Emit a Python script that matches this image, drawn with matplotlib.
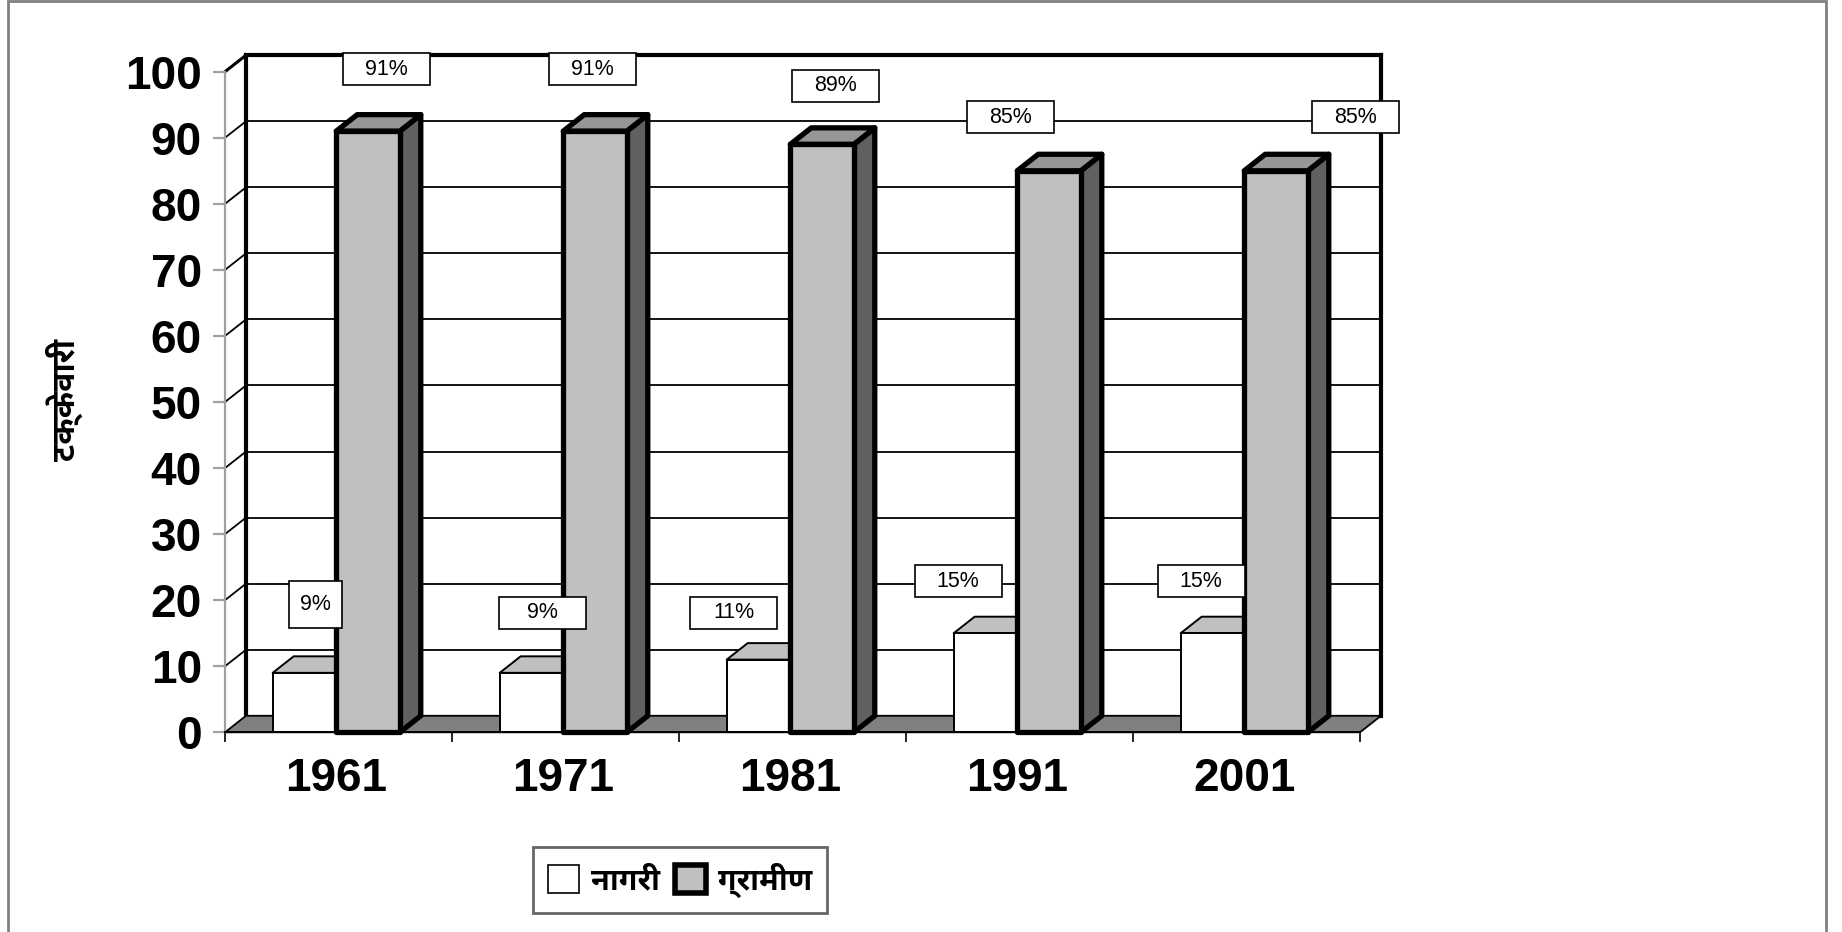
import matplotlib
matplotlib.use('Agg')
import matplotlib.pyplot as plt
from matplotlib import font_manager
from matplotlib.ft2font import FT2Font
from matplotlib.patches import Polygon, Rectangle, Patch

years = ['1961', '1971', '1981', '1991', '2001']
urban = [9, 9, 11, 15, 15]      # नागरी
rural = [91, 91, 89, 85, 85]    # ग्रामीण
urban_labels = ['9%', '9%', '11%', '15%', '15%']
rural_labels = ['91%', '91%', '89%', '85%', '85%']
y_label = 'टक्केवारी'
legend_names = ['नागरी', 'ग्रामीण']

# label box centres (data coords), as Excel placed them
urban_lab_pos = [(0.40, 19.3), (1.40, 18.1), (2.24, 18.1), (3.23, 22.9), (4.30, 22.9)]
rural_lab_pos = [(0.71, 100.4), (1.62, 100.4), (2.69, 97.9), (3.46, 93.1), (4.98, 93.1)]


def find_deva_font():
    # fonts that have devanagari, bold faces first
    found = []
    for f in font_manager.fontManager.ttflist:
        try:
            if ord('न') in FT2Font(f.fname).get_charmap():
                w = f.weight if isinstance(f.weight, int) else 400
                found.append((w >= 600, 'Devanagari' in f.name, f.name))
        except Exception:
            pass
    found.sort(reverse=True)
    return [n for _, _, n in found]


deva = find_deva_font()
deva_family = (deva[:1] if deva else []) + ['DejaVu Sans']

plt.rcParams['font.family'] = ['Liberation Sans', 'DejaVu Sans']

fig = plt.figure(figsize=(18.42, 9.32), dpi=100)
W, H = 1842, 932
ax = fig.add_axes([225 / W, 1 - 732.3 / H, (1360 - 225) / W, (732.3 - 71.7) / H])
ax.set_xlim(0, 5)
ax.set_ylim(0, 100)

dx, dy = 0.0925, 2.5   # depth offset of the 3d box
n = len(years)

# floor
ax.add_patch(Polygon([(0, 0), (n, 0), (n + dx, dy), (dx, dy)], closed=True,
                     facecolor='#808080', edgecolor='black', lw=1.3, zorder=1, clip_on=False))
# back wall grid + side diagonals
for v in range(10, 100, 10):
    ax.plot([dx, n + dx], [v + dy, v + dy], color='black', lw=1.3, zorder=0.5, clip_on=False)
    ax.plot([0, dx], [v, v + dy], color='black', lw=1.3, zorder=0.5, clip_on=False)
ax.plot([0, dx], [100, 100 + dy], color='black', lw=2.2, zorder=0.5, clip_on=False)
ax.plot([dx, n + dx], [100 + dy, 100 + dy], color='black', lw=3, zorder=0.6, clip_on=False)
ax.plot([dx, dx], [dy, 100 + dy], color='black', lw=3, zorder=0.6, clip_on=False)
ax.plot([n + dx, n + dx], [dy, 100 + dy], color='black', lw=3, zorder=0.6, clip_on=False)


def bar3d(x0, w, h, front, top, side, lw, z):
    kw = dict(closed=True, edgecolor='black', lw=lw, joinstyle='round', zorder=z, clip_on=False)
    ax.add_patch(Polygon([(x0 + w, 0), (x0 + w + dx, dy), (x0 + w + dx, h + dy), (x0 + w, h)],
                         facecolor=side, **kw))
    ax.add_patch(Polygon([(x0, h), (x0 + w, h), (x0 + w + dx, h + dy), (x0 + dx, h + dy)],
                         facecolor=top, **kw))
    ax.add_patch(Polygon([(x0, 0), (x0 + w, 0), (x0 + w, h), (x0, h)],
                         facecolor=front, **kw))


bw = 0.28
for i in range(n):
    c = i + 0.49
    bar3d(c - bw, bw, urban[i], 'white', '#c0c0c0', '#c0c0c0', 1.4, 2 + i)
    bar3d(c, bw, rural[i], '#c0c0c0', '#969696', '#606060', 3.8, 2.5 + i)

# data labels
bx, by = 87 / 227, 32 / 6.606
for k, (lab, (x, y)) in enumerate(zip(urban_labels, urban_lab_pos)):
    w, h = (53 / 227, 47 / 6.606) if k == 0 else (bx, by)
    ax.add_patch(Rectangle((x - w / 2, y - h / 2), w, h, facecolor='white', edgecolor='black',
                           lw=1.2, zorder=20, clip_on=False))
    ax.text(x, y, lab, ha='center', va='center', fontsize=15.5, zorder=21)
for lab, (x, y) in zip(rural_labels, rural_lab_pos):
    ax.add_patch(Rectangle((x - bx / 2, y - by / 2), bx, by, facecolor='white', edgecolor='black',
                           lw=1.2, zorder=20, clip_on=False))
    ax.text(x, y, lab, ha='center', va='center', fontsize=15.5, zorder=21)

# axes
for s in ['top', 'right']:
    ax.spines[s].set_visible(False)
ax.spines['left'].set_color('#a0a0a0')
ax.spines['left'].set_linewidth(1.6)
ax.spines['bottom'].set_color('black')
ax.spines['bottom'].set_linewidth(1.4)
ax.spines['bottom'].set_zorder(15)
ax.set_yticks(range(0, 101, 10))
ax.tick_params(axis='y', colors='#a0a0a0', length=8.6, width=1.6, pad=8, labelcolor='black',
               labelsize=33)
for t in ax.get_yticklabels():
    t.set_fontweight('bold')
ax.set_xticks(range(0, n + 1))
ax.set_xticklabels([])
ax.tick_params(axis='x', which='major', length=7, width=1.2, color='black')
ax.set_xticks([i + 0.49 for i in range(n)], minor=True)
ax.set_xticklabels(years, minor=True, fontsize=33, fontweight='bold')
ax.tick_params(axis='x', which='minor', length=0, pad=18)

fig.text(64 / W, 1 - 400 / H, y_label, rotation=90, ha='center', va='center',
         fontsize=23, fontweight='bold', family=deva_family)

handles = [Patch(facecolor='white', edgecolor='black', lw=1.2),
           Patch(facecolor='#c0c0c0', edgecolor='black', lw=4)]
leg = fig.legend(handles, legend_names, loc='center', bbox_to_anchor=(680 / W, 1 - 880 / H),
                 ncol=2, frameon=True, fancybox=False, edgecolor='#404040',
                 prop=dict(family=deva_family, weight='bold', size=22),
                 handlelength=1.0, handleheight=1.0, handletextpad=0.4, columnspacing=0.5,
                 borderpad=0.5, borderaxespad=0)
leg.get_frame().set_linewidth(2)

fig.patches.append(Rectangle((7.5 / W, -0.05), 1818 / W, 1.05 - 1.2 / H, transform=fig.transFigure,
                             facecolor='none', edgecolor='#808080', lw=2))

fig.savefig('out.png', dpi=100)
